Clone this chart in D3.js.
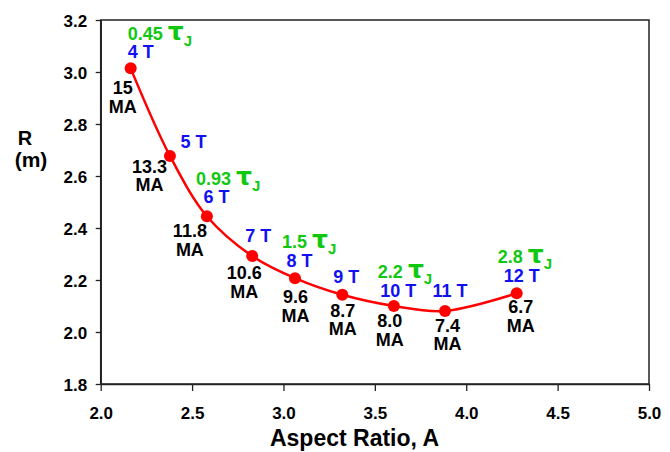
<!DOCTYPE html>
<html><head><meta charset="utf-8">
<script src="https://cdn.jsdelivr.net/npm/d3@7"></script>
<style>
body{margin:0;background:#fff;}
svg text{font-family:"Liberation Sans",Arial,Helvetica,sans-serif;font-weight:bold;}
</style></head>
<body><svg id="chart" width="670" height="452"></svg>
<script>
// ---- data ----
const aspectRatio = [2.164, 2.379, 2.581, 2.829, 3.063, 3.322, 3.604, 3.884, 4.276];
const majorRadius = [3.014, 2.677, 2.445, 2.292, 2.207, 2.143, 2.100, 2.081, 2.149];
const fieldLabels = ["4 T","5 T","6 T","7 T","8 T","9 T","10 T","11 T","12 T"];
const currentLabels = ["15","13.3","11.8","10.6","9.6","8.7","8.0","7.4","6.7"];
const tauLabels = ["0.45", null, "0.93", null, "1.5", null, "2.2", null, "2.8"];
const xTicks = [2.0, 2.5, 3.0, 3.5, 4.0, 4.5, 5.0];
const yTicks = [1.8, 2.0, 2.2, 2.4, 2.6, 2.8, 3.0, 3.2];
const xTitle = "Aspect Ratio, A";
const yTitle = ["R", "(m)"];

// ---- label layout offsets (px, relative to each point) ----
const fieldOff = [[10,-10],[23.5,-8],[9.5,-13],[6,-14],[4.5,-11],[4,-12],[4.5,-9],[5,-14],[5,-11]];
const currOff  = [[-8,26],[-20.5,17],[-17,21],[-8,23],[0.5,25],[0.5,22],[-4,21],[2.5,21],[4,20]];
const tauOff   = [[-3,-28],null,[-11,-31],null,[-13,-30],null,[-16,-28],null,[-19,-30]];

const svg = d3.select("#chart");
const L = 100.7, R = 649, T = 20, B = 384;
const x = d3.scaleLinear().domain([2,5]).range([L,R]);
const y = d3.scaleLinear().domain([1.8,3.2]).range([B,T]);

const axisColor = "#222";
// frame
svg.append("rect").attr("x",L).attr("y",T).attr("width",R-L).attr("height",B-T)
  .attr("fill","none").attr("stroke",axisColor).attr("stroke-width",1.5);

const gx = svg.append("g").attr("transform",`translate(0,${B})`)
  .call(d3.axisBottom(x).tickValues(xTicks).tickFormat(d3.format(".1f")).tickSize(7).tickSizeOuter(0).tickPadding(16));
const gy = svg.append("g").attr("transform",`translate(${L},0)`)
  .call(d3.axisLeft(y).tickValues(yTicks).tickFormat(d3.format(".1f")).tickSize(5).tickSizeOuter(0).tickPadding(8.5));
[gx,gy].forEach(g=>{
  g.select(".domain").attr("stroke",axisColor).attr("stroke-width",1.5);
  g.selectAll(".tick line").attr("stroke",axisColor).attr("stroke-width",1.3);
  g.selectAll(".tick text").attr("fill","#000").style("font-size","17px")
   .style("font-family",'"Liberation Sans",Arial,sans-serif').style("font-weight","bold");
});
gy.selectAll(".tick text").attr("dy","0.38em");

// axis titles
svg.append("text").attr("x",354.5).attr("y",446).attr("text-anchor","middle")
  .style("font-size","23px").text(xTitle);
svg.append("text").attr("x",25).attr("y",145).attr("text-anchor","middle")
  .style("font-size","20px").text(yTitle[0]);
svg.append("text").attr("x",31).attr("y",167).attr("text-anchor","middle")
  .style("font-size","21px").text(yTitle[1]);

// curve
const pts = aspectRatio.map((a,i)=>[a, majorRadius[i]]);
const line = d3.line().x(d=>x(d[0])).y(d=>y(d[1])).curve(d3.curveCatmullRom.alpha(0.5));
svg.append("path").attr("d",line(pts)).attr("fill","none").attr("stroke","#ff0000").attr("stroke-width",2.5);

svg.selectAll("circle.pt").data(pts).join("circle").attr("class","pt")
  .attr("cx",d=>x(d[0])).attr("cy",d=>y(d[1])).attr("r",6).attr("fill","#ff0000");

// labels
const blue = "#1010f0", green = "#10c810";
pts.forEach((d,i)=>{
  const px = x(d[0]), py = y(d[1]);
  svg.append("text").attr("x",px+fieldOff[i][0]).attr("y",py+fieldOff[i][1])
    .attr("text-anchor","middle").attr("fill",blue).style("font-size","18px").text(fieldLabels[i]);
  svg.append("text").attr("x",px+currOff[i][0]).attr("y",py+currOff[i][1])
    .attr("text-anchor","middle").attr("fill","#000").style("font-size","18px").text(currentLabels[i]);
  svg.append("text").attr("x",px+currOff[i][0]).attr("y",py+currOff[i][1]+18.5)
    .attr("text-anchor","middle").attr("fill","#000").style("font-size","18px").text("MA");
  if (tauLabels[i]) {
    const t = svg.append("text").attr("x",px+tauOff[i][0]).attr("y",py+tauOff[i][1])
      .attr("fill",green).style("font-size","18px");
    t.append("tspan").text(tauLabels[i] + " ");
    t.append("tspan").style("font-size","25px").style("font-family",'"DejaVu Sans",sans-serif').text("τ");
    t.append("tspan").style("font-size","15px").attr("dy",6).text("J");
  }
});
</script></body></html>
